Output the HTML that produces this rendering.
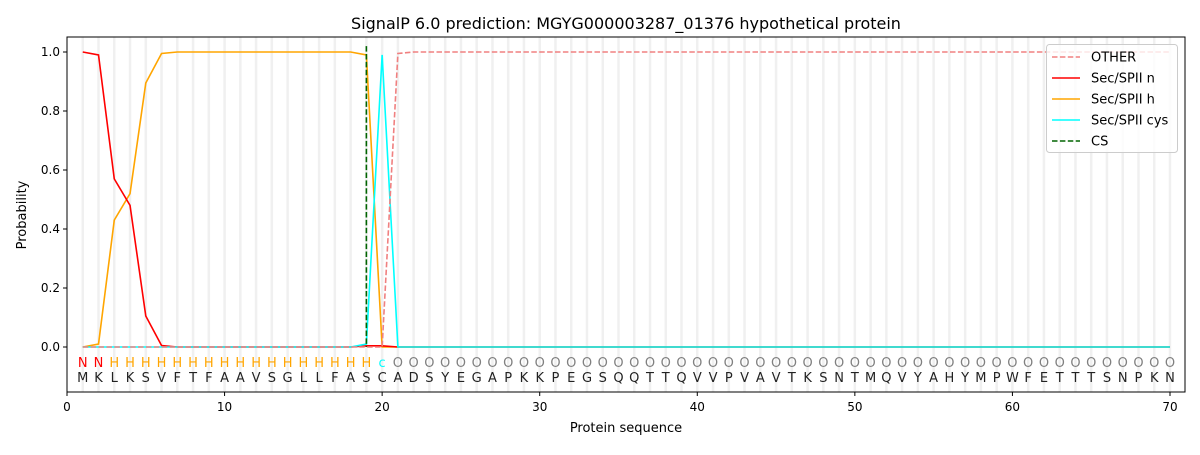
<!DOCTYPE html><html><head><style>body{margin:0;background:#fff}svg{font-family:"DejaVu Sans","Liberation Sans",sans-serif}</style></head><body>
<svg id="s" width="1200" height="450" xmlns="http://www.w3.org/2000/svg"></svg>
<script>
const X=v=>67+15.757*v, Y=p=>347-295*p;
let o='<rect width="1200" height="450" fill="#fff"/>';
for(let i=1;i<=70;i++)o+=`<line x1="${X(i)}" y1="37" x2="${X(i)}" y2="392" stroke="#f0f0f0" stroke-width="2.5"/>`;
const seq="MKLKSVFTFAAVSGLLFASCADSYEGAPKKPEGSQQTTQVVPVAVTKSNTMQVYAHYMPWFETTTSNPKN";
function pl(pts,c,d){return `<polyline fill="none" stroke="${c}" stroke-width="1.6" ${d?'stroke-dasharray="5.5,2.4"':''} points="${pts.map(p=>X(p[0])+','+Y(p[1])).join(' ')}"/>`}
let oth=[],n=[],h=[],cy=[];
const nv=[1,.99,.57,.48,.105,.005],hv=[0,.01,.43,.52,.895,.995];
for(let i=1;i<=70;i++){
oth.push([i,i<=20?0:(i==21?.995:1)]);
n.push([i,i<=6?nv[i-1]:(i==19||i==20?.004:0)]);
h.push([i,i<=6?hv[i-1]:(i<=18?1:(i==19?.99:0))]);
cy.push([i,i==19?.01:(i==20?.99:0)]);
}
o+=pl(h,"orange")+pl(n,"red")+pl(cy,"cyan")+pl(oth,"#f08080",1);
o+=`<line x1="${X(19)}" y1="${Y(1.02)}" x2="${X(19)}" y2="${Y(0)}" stroke="#006400" stroke-width="1.6" stroke-dasharray="5.5,2.4"/>`;
for(let i=1;i<=70;i++){
let l,c;if(i<=2){l='N';c='red'}else if(i<=19){l='H';c='orange'}else if(i==20){l='c';c='cyan'}else{l='O';c='gray'}
o+=`<text x="${X(i)}" y="367" font-size="13" text-anchor="middle" fill="${c}">${l}</text>`;
o+=`<text x="${X(i)}" y="382" font-size="13" text-anchor="middle" fill="#222">${seq[i-1]}</text>`;
}
o+=`<rect x="67" y="37" width="1118" height="355" fill="none" stroke="#000" stroke-width="1"/>`;
for(let v=0;v<=70;v+=10){o+=`<line x1="${X(v)}" y1="392" x2="${X(v)}" y2="396" stroke="#000"/><text x="${X(v)}" y="411" font-size="12" text-anchor="middle">${v}</text>`}
for(let k=0;k<=5;k++){let p=k*.2;o+=`<line x1="63" y1="${Y(p)}" x2="67" y2="${Y(p)}" stroke="#000"/><text x="60" y="${Y(p)+4}" font-size="12" text-anchor="end">${p.toFixed(1)}</text>`}
o+=`<text x="626" y="432" font-size="13" text-anchor="middle">Protein sequence</text>`;
o+=`<text x="26" y="215" font-size="13" text-anchor="middle" transform="rotate(-90 26 215)">Probability</text>`;
o+=`<text x="626" y="29" font-size="16" text-anchor="middle">SignalP 6.0 prediction: MGYG000003287_01376 hypothetical protein</text>`;
o+=`<rect x="1046.5" y="44.5" width="131" height="108" rx="3" fill="#fff" fill-opacity="0.8" stroke="#ccc"/>`;
const lg=[["OTHER","#f08080",1],["Sec/SPII n","red"],["Sec/SPII h","orange"],["Sec/SPII cys","cyan"],["CS","#006400",1]];
lg.forEach((e,i)=>{let y=57+i*21;o+=`<line x1="1052" y1="${y}" x2="1080" y2="${y}" stroke="${e[1]}" stroke-width="1.6" ${e[2]?'stroke-dasharray="5.5,2.4"':''}/><text x="1091" y="${y+4.5}" font-size="13">${e[0]}</text>`});
document.getElementById('s').innerHTML=o;
</script></body></html>
